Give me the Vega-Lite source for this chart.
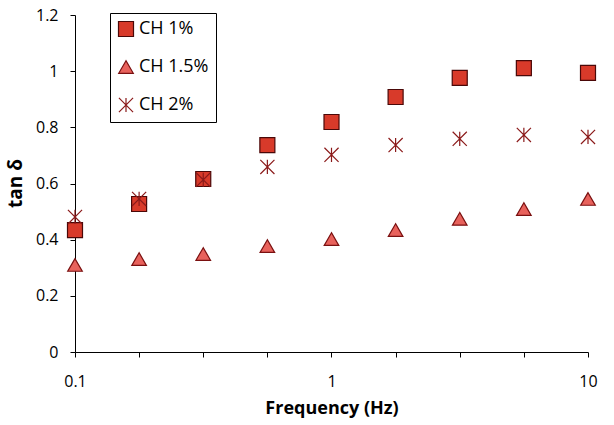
{
  "$schema": "https://vega.github.io/schema/vega-lite/v6.json",
  "width": 513,
  "height": 337,
  "padding": {"left": 75, "top": 15, "right": 26, "bottom": 73},
  "autosize": {"type": "none"},
  "background": "white",
  "config": {
    "view": {"stroke": null},
    "font": "Open Sans",
    "axis": {"grid": false, "domainColor": "black", "tickColor": "black", "labelColor": "black", "titleColor": "black", "labelFont": "Open Sans", "titleFont": "Open Sans"}
  },
  "data": {
    "values": [
      {"freq": 0.1, "tan": 0.434, "series": "CH 1%"},
      {"freq": 0.1778, "tan": 0.527, "series": "CH 1%"},
      {"freq": 0.3162, "tan": 0.616, "series": "CH 1%"},
      {"freq": 0.5623, "tan": 0.737, "series": "CH 1%"},
      {"freq": 1, "tan": 0.819, "series": "CH 1%"},
      {"freq": 1.778, "tan": 0.908, "series": "CH 1%"},
      {"freq": 3.162, "tan": 0.976, "series": "CH 1%"},
      {"freq": 5.623, "tan": 1.011, "series": "CH 1%"},
      {"freq": 10, "tan": 0.994, "series": "CH 1%"},
      {"freq": 0.1, "tan": 0.31, "series": "CH 1.5%"},
      {"freq": 0.1778, "tan": 0.331, "series": "CH 1.5%"},
      {"freq": 0.3162, "tan": 0.349, "series": "CH 1.5%"},
      {"freq": 0.5623, "tan": 0.377, "series": "CH 1.5%"},
      {"freq": 1, "tan": 0.402, "series": "CH 1.5%"},
      {"freq": 1.778, "tan": 0.434, "series": "CH 1.5%"},
      {"freq": 3.162, "tan": 0.474, "series": "CH 1.5%"},
      {"freq": 5.623, "tan": 0.509, "series": "CH 1.5%"},
      {"freq": 10, "tan": 0.545, "series": "CH 1.5%"},
      {"freq": 0.1, "tan": 0.481, "series": "CH 2%"},
      {"freq": 0.1778, "tan": 0.545, "series": "CH 2%"},
      {"freq": 0.3162, "tan": 0.613, "series": "CH 2%"},
      {"freq": 0.5623, "tan": 0.659, "series": "CH 2%"},
      {"freq": 1, "tan": 0.702, "series": "CH 2%"},
      {"freq": 1.778, "tan": 0.737, "series": "CH 2%"},
      {"freq": 3.162, "tan": 0.759, "series": "CH 2%"},
      {"freq": 5.623, "tan": 0.773, "series": "CH 2%"},
      {"freq": 10, "tan": 0.766, "series": "CH 2%"}
    ]
  },
  "mark": {"type": "point", "filled": true, "strokeWidth": 1.2, "opacity": 1, "size": 230},
  "encoding": {
    "x": {
      "field": "freq", "type": "quantitative",
      "scale": {"type": "log", "domain": [0.1, 10], "nice": false},
      "axis": {
        "title": "Frequency (Hz)",
        "values": [0.1, 0.1778, 0.3162, 0.5623, 1, 1.778, 3.162, 5.623, 10],
        "labelExpr": "datum.value == 0.1 ? '0.1' : datum.value == 1 ? '1' : datum.value == 10 ? '10' : ''",
        "labelFontSize": 16, "labelPadding": 16, "tickSize": 5,
        "titleFontSize": 18, "titleFontWeight": "bold", "titlePadding": 10,
        "labelFlush": false
      }
    },
    "y": {
      "field": "tan", "type": "quantitative",
      "scale": {"domain": [0, 1.2], "nice": false},
      "axis": {
        "title": "tan δ",
        "values": [0, 0.2, 0.4, 0.6, 0.8, 1, 1.2],
        "format": "~g",
        "labelFontSize": 16, "labelPadding": 12, "tickSize": 5,
        "titleFontSize": 19, "titleFontWeight": "bold",
        "titleX": -60, "titleY": 168, "titleBaseline": "middle", "titleAlign": "center"
      }
    },
    "shape": {
      "field": "series", "type": "nominal",
      "scale": {"domain": ["CH 1%", "CH 1.5%", "CH 2%"], "range": ["square", "triangle-up", "M-1,-1L1,1M-1,1L1,-1M0,-1L0,1"]},
      "legend": {
        "title": null, "orient": "none", "legendX": 35, "legendY": -2,
        "fillColor": "white", "strokeColor": "black", "padding": 7,
        "labelFontSize": 18, "labelFont": "Open Sans", "labelColor": "black", "labelOffset": 4,
        "rowPadding": 19, "symbolOpacity": 1, "symbolStrokeWidth": 1.2
      }
    },
    "fill": {
      "field": "series", "type": "nominal",
      "scale": {"domain": ["CH 1%", "CH 1.5%", "CH 2%"], "range": ["#d83a2a", "#e8625c", "transparent"]}
    },
    "stroke": {
      "field": "series", "type": "nominal",
      "scale": {"domain": ["CH 1%", "CH 1.5%", "CH 2%"], "range": ["#4a0808", "#7a1010", "#8b1a1a"]}
    },
    "size": {
      "field": "series", "type": "nominal",
      "scale": {"domain": ["CH 1%", "CH 1.5%", "CH 2%"], "range": [225, 200, 290]}
    }
  }
}
